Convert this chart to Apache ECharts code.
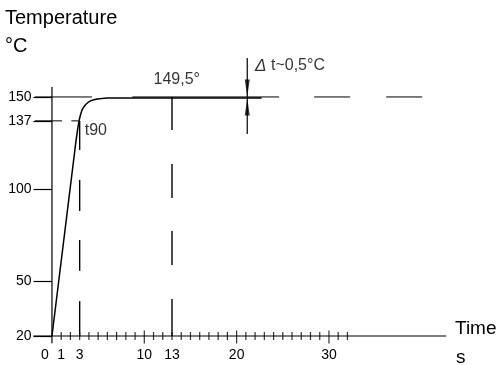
<!DOCTYPE html>
<html>
<head>
<meta charset="utf-8">
<script src="https://cdn.jsdelivr.net/npm/echarts@6/dist/echarts.min.js"></script>
<style>
  html, body { margin: 0; padding: 0; background: #fff; }
  #chart { width: 499px; height: 365px; }
</style>
</head>
<body>
<div id="chart"></div>
<script>
// 升温曲线 (s, °C)
var curveTime = [0, 2.6, 2.8, 2.95, 3.1, 3.25, 3.45, 3.65, 3.9, 4.2, 4.55, 4.9, 5.4, 6.0, 6.8, 8, 12, 16, 20, 22.7];
var curveTemp = [20, 126, 133, 137.5, 140.5, 142.8, 144.6, 145.9, 147, 147.9, 148.5, 148.9, 149.2, 149.4, 149.5, 149.5, 149.5, 149.5, 149.5, 149.5];

// 坐标轴刻度
var yLabels = [20, 50, 100, 137, 150];
var xLabels = [0, 1, 3, 10, 13, 20, 30];
var xMinorTicks = [1, 2, 3, 4, 5, 6, 7, 8, 9, 11, 12, 13, 14, 15, 16, 17, 18, 19, 21, 22, 23, 24, 25, 26, 27, 28, 29, 31, 32];
var xMajorTicks = [10, 20, 30];

// 坐标轴线
var axisXSpan = [-2, 42.7];
var axisYSpan = [16, 155.4];

// 辅助线 (虚线段)
var ref150 = [[-1.84, 4.33], [8.7, 24.6], [28.4, 32.3], [36.2, 40.1]];
var ref137 = [[-1.84, 1.1], [2.1, 2.9]];
var refT3 = [[137, 121.2], [104.9, 88], [72.2, 55.4], [39, 20]];
var refT13 = [[150, 132], [113.6, 95.1], [77.1, 58.6], [40.1, 20]];
var deltaT = 21.15;
var deltaSpan = [129.9, 171.2];

// 注释文字
var notes = [
  { text: "149,5°", x: 11.0, y: 159.5 },
  { text: "t90", x: 3.55, y: 131.5 },
  { text: "{d|Δ} t~0,5°C", x: 22.0, y: 166.8 },
];

var FONT = "Liberation Sans";

function seg(points, width) {
  return {
    type: "line",
    data: points,
    symbol: "none",
    silent: true,
    lineStyle: { color: "#000", width: width, cap: "butt" },
    z: 2,
  };
}

var seriesArr = [];

// 坐标轴
seriesArr.push(seg([[axisXSpan[0], 20], [axisXSpan[1], 20]], 1.2));
seriesArr.push(seg([[0, axisYSpan[0]], [0, axisYSpan[1]]], 1.2));

ref150.forEach(function (s) {
  seriesArr.push(seg([[s[0], 150], [s[1], 150]], 1));
});
ref137.forEach(function (s) {
  seriesArr.push(seg([[s[0], 137], [s[1], 137]], 1));
});
refT3.forEach(function (s) {
  seriesArr.push(seg([[3, s[0]], [3, s[1]]], 1.4));
});
refT13.forEach(function (s) {
  seriesArr.push(seg([[13, s[0]], [13, s[1]]], 1.4));
});
seriesArr.push(seg([[deltaT, deltaSpan[0]], [deltaT, deltaSpan[1]]], 1.2));

// 曲线
seriesArr.push({
  type: "line",
  data: curveTime.map(function (t, i) { return [t, curveTemp[i]]; }),
  symbol: "none",
  smooth: false,
  silent: true,
  lineStyle: { color: "#000", width: 1.5, join: "round" },
  z: 3,
});

// x 轴刻度
seriesArr.push({
  type: "scatter",
  data: xMinorTicks.map(function (t) { return [t, 20]; }),
  symbol: "rect",
  symbolSize: [1.2, 8],
  itemStyle: { color: "#000" },
  silent: true,
});
seriesArr.push({
  type: "scatter",
  data: xMajorTicks.map(function (t) { return [t, 20]; }),
  symbol: "rect",
  symbolSize: [1.2, 13],
  symbolOffset: [0, 1],
  itemStyle: { color: "#000" },
  silent: true,
});

// Δt 箭头
seriesArr.push({
  type: "scatter",
  data: [[deltaT, 150]],
  symbol: "path://M0,0L10,0L5,40Z",
  symbolSize: [5, 17],
  symbolOffset: [0, -9],
  itemStyle: { color: "#000" },
  silent: true,
});
seriesArr.push({
  type: "scatter",
  data: [[deltaT, 150]],
  symbol: "path://M5,0L10,40L0,40Z",
  symbolSize: [5, 17],
  symbolOffset: [0, 10],
  itemStyle: { color: "#000" },
  silent: true,
});

// 注释
seriesArr.push({
  type: "scatter",
  data: notes.map(function (n) { return { value: [n.x, n.y], name: n.text }; }),
  symbolSize: 0,
  silent: true,
  label: {
    show: true,
    position: "inside",
    align: "left",
    verticalAlign: "middle",
    formatter: function (p) { return p.name; },
    color: "#000",
    fontFamily: FONT,
    fontSize: 16,
    rich: {
      d: { fontStyle: "italic", fontSize: 17, fontFamily: FONT, color: "#000" },
    },
  },
});

var option = {
  animation: false,
  backgroundColor: "#fff",
  grid: { left: 33.5, right: 50, top: 32.6, bottom: 19.8, outerBoundsMode: "none" },
  xAxis: {
    type: "value",
    min: -2,
    max: 43,
    axisLine: { show: false, onZero: false },
    axisTick: { show: false },
    splitLine: { show: false },
    axisLabel: {
      customValues: xLabels,
      margin: 3,
      color: "#000",
      fontFamily: FONT,
      fontSize: 14,
      formatter: function (v) {
        return v === 0 ? "{z|0}" : String(v);
      },
      rich: {
        z: { padding: [0, 14, 0, 0], color: "#000", fontFamily: FONT, fontSize: 14 },
      },
    },
  },
  yAxis: {
    type: "value",
    min: 15,
    max: 185,
    axisLine: { show: false, onZero: false },
    splitLine: { show: false },
    axisTick: {
      show: true,
      customValues: yLabels,
      inside: true,
      length: 18.5,
      lineStyle: { color: "#000", width: 1.2 },
    },
    axisLabel: {
      customValues: yLabels,
      margin: 2,
      color: "#000",
      fontFamily: FONT,
      fontSize: 14,
    },
  },
  graphic: [
    { type: "text", left: 5, top: 8, style: { text: "Temperature", font: "20px " + FONT, fill: "#000" } },
    { type: "text", left: 5, top: 36, style: { text: "°C", font: "20px " + FONT, fill: "#000" } },
    { type: "text", left: 455, top: 319, style: { text: "Time", font: "19px " + FONT, fill: "#000" } },
    { type: "text", left: 456, top: 348, style: { text: "s", font: "19px " + FONT, fill: "#000" } },
  ],
  series: seriesArr,
};

var myChart = echarts.init(document.getElementById("chart"), null, { renderer: "canvas" });
myChart.setOption(option);
</script>
</body>
</html>
